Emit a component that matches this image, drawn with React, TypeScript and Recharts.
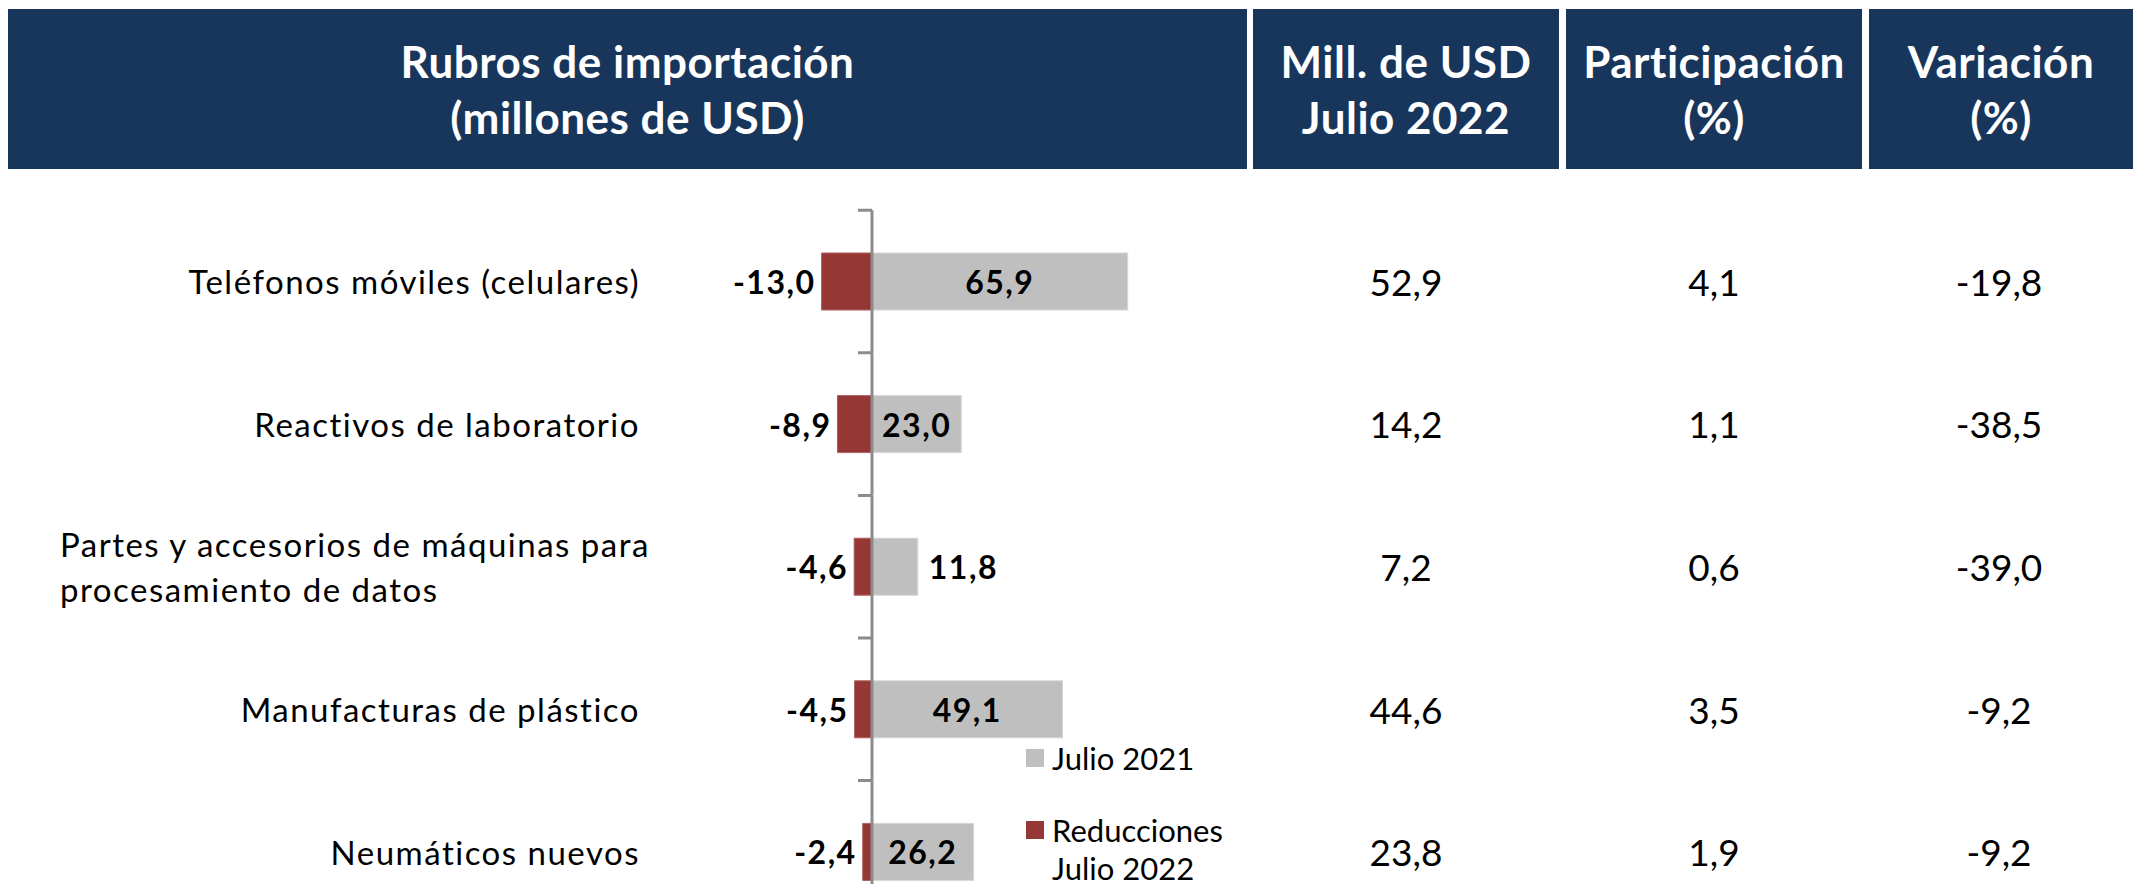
import React from "react";
import { BarChart, Bar, XAxis, YAxis, LabelList, Legend } from "recharts";

const categories = [
  "Teléfonos móviles (celulares)",
  "Reactivos de laboratorio",
  "Partes y accesorios de máquinas para\nprocesamiento de datos",
  "Manufacturas de plástico",
  "Neumáticos nuevos",
];
const julio2021 = [65.9, 23.0, 11.8, 49.1, 26.2];
const reducciones = [-13.0, -8.9, -4.6, -4.5, -2.4];
const millUsdJulio2022 = [52.9, 14.2, 7.2, 44.6, 23.8];
const participacion = [4.1, 1.1, 0.6, 3.5, 1.9];
const variacion = [-19.8, -38.5, -39.0, -9.2, -9.2];
const seriesNames = ["Julio 2021", "Reducciones Julio 2022"];
const headerTitles = [
  ["Rubros de importación", "(millones de USD)"],
  ["Mill. de USD", "Julio 2022"],
  ["Participación", "(%)"],
  ["Variación", "(%)"],
];

const NAVY = "#18365c";
const GREY = "#bfbfbf";
const RED = "#953735";
const AXIS = "#8c8c8c";
const FONT = "Lato, 'Open Sans', sans-serif";

const W = 2133;
const H = 884;
const TOP = 210;
const BAND = 142.6;
const CHART_H = TOP + BAND * categories.length;

// header cells [left, right]
const headerCells = [
  [8, 1247],
  [1253, 1559],
  [1566, 1862],
  [1869, 2133],
];
const tableCols = [
  { values: millUsdJulio2022, x: 1406 },
  { values: participacion, x: 1714 },
  { values: variacion, x: 1999 },
];

const fmt = (v: number) => v.toFixed(1).replace(".", ",");

const chartData = categories.map((name, i) => ({
  name,
  julio2021: julio2021[i],
  reducciones: reducciones[i],
}));

const labelStyle = {
  fontFamily: FONT,
  fontSize: 33,
  letterSpacing: 1.5,
  fill: "#000",
};

const RowTick = (props: any) => {
  const { y, payload } = props;
  const i = payload.index ?? categories.indexOf(payload.value);
  const lines = String(payload.value).split("\n");
  return (
    <g>
      {lines.length === 1 ? (
        <text x={640} y={y} textAnchor="end" dominantBaseline="central" {...labelStyle}>
          {lines[0]}
        </text>
      ) : (
        <text textAnchor="start" {...labelStyle}>
          {lines.map((l, k) => (
            <tspan
              key={k}
              x={60}
              y={y + (k - (lines.length - 1) / 2) * 45}
              dominantBaseline="central"
            >
              {l}
            </tspan>
          ))}
        </text>
      )}
      {tableCols.map((c, k) => (
        <text
          key={k}
          x={c.x}
          y={y}
          textAnchor="middle"
          dominantBaseline="central"
          fontFamily={FONT}
          fontSize={37}
          fill="#000"
        >
          {fmt(c.values[i])}
        </text>
      ))}
    </g>
  );
};

const GreyBar = (props: any) => {
  const { x, y, width, height, fill } = props;
  const left = Math.min(x, x + width);
  const w = Math.abs(width);
  const top = y + height / 2 - BAND / 2;
  return (
    <g>
      <rect x={left} y={y} width={w} height={height} fill={fill} stroke="#d6d6d6" strokeWidth={1} />
      <line x1={left} x2={left} y1={top} y2={top + BAND} stroke={AXIS} strokeWidth={3} />
      <line x1={left - 14} x2={left} y1={top} y2={top} stroke={AXIS} strokeWidth={3} />
    </g>
  );
};

const barLabel = (negative: boolean) => (props: any) => {
  const vb = props.viewBox && props.viewBox.width !== undefined ? props.viewBox : props;
  const { x, y, width, height } = vb;
  const value = props.value as number;
  const left = Math.min(x, x + width);
  const w = Math.abs(width);
  const cy = y + height / 2;
  const text = fmt(value);
  const common = {
    fontFamily: FONT,
    fontSize: 32,
    fontWeight: 700,
    letterSpacing: 1.5,
    fill: "#000",
    dominantBaseline: "central" as const,
  };
  if (negative) {
    return (
      <text x={left - 6} y={cy} textAnchor="end" {...common}>
        {text}
      </text>
    );
  }
  const textW = text.length * 19;
  if (w > textW) {
    return (
      <text x={left + w / 2} y={cy} textAnchor="middle" {...common}>
        {text}
      </text>
    );
  }
  return (
    <text x={left + w + 11} y={cy} textAnchor="start" {...common}>
      {text}
    </text>
  );
};

const LegendBox = () => {
  const items = [
    { name: seriesNames[0], color: GREY },
    { name: seriesNames[1], color: RED },
  ];
  return (
    <div style={{ fontFamily: FONT, fontSize: 31, color: "#000" }}>
      {items.map((it, k) => (
        <div
          key={k}
          style={{ display: "flex", alignItems: "flex-start", marginBottom: 34 }}
        >
          <span
            style={{
              width: 18,
              height: 18,
              marginTop: 10,
              marginRight: 8,
              background: it.color,
              flex: "none",
            }}
          />
          <span style={{ lineHeight: "38px", width: 200 }}>{it.name}</span>
        </div>
      ))}
    </div>
  );
};

export default function App() {
  return (
    <div
      style={{
        position: "absolute",
        left: 0,
        top: 0,
        width: W,
        height: H,
        overflow: "hidden",
        background: "#fff",
        fontFamily: FONT,
      }}
    >
      {headerCells.map(([l, r], k) => (
        <div
          key={k}
          style={{
            position: "absolute",
            left: l,
            top: 9,
            width: r - l,
            height: 160,
            background: NAVY,
            color: "#fff",
            display: "flex",
            flexDirection: "column",
            justifyContent: "center",
            alignItems: "center",
            fontSize: 44,
            fontWeight: 700,
            letterSpacing: 0.5,
            lineHeight: "56px",
            textAlign: "center",
          }}
        >
          {headerTitles[k].map((t, j) => (
            <div key={j}>{t}</div>
          ))}
        </div>
      ))}
      <div style={{ position: "absolute", left: 0, top: 0 }}>
        <BarChart
          width={W}
          height={CHART_H}
          data={chartData}
          layout="vertical"
          stackOffset="sign"
          barSize={57}
          margin={{ top: TOP, right: 989.4, bottom: 0, left: 734.4 }}
        >
          <XAxis type="number" domain={[-20, 70]} allowDataOverflow hide />
          <YAxis
            type="category"
            dataKey="name"
            width={60}
            axisLine={false}
            tickLine={false}
            interval={0}
            tick={(p: any) => <RowTick {...p} />}
          />
          <Legend
            layout="vertical"
            align="center"
            verticalAlign="middle"
            wrapperStyle={{ left: 1026, top: 739, width: 280 }}
            content={() => <LegendBox />}
          />
          <Bar
            dataKey="reducciones"
            name={seriesNames[1]}
            stackId="a"
            fill={RED}
            stroke="#b06060"
            strokeWidth={1}
            isAnimationActive={false}
          >
            <LabelList dataKey="reducciones" content={barLabel(true)} />
          </Bar>
          <Bar
            dataKey="julio2021"
            name={seriesNames[0]}
            stackId="a"
            fill={GREY}
            shape={(p: any) => <GreyBar {...p} />}
            isAnimationActive={false}
          >
            <LabelList dataKey="julio2021" content={barLabel(false)} />
          </Bar>
        </BarChart>
      </div>
    </div>
  );
}
